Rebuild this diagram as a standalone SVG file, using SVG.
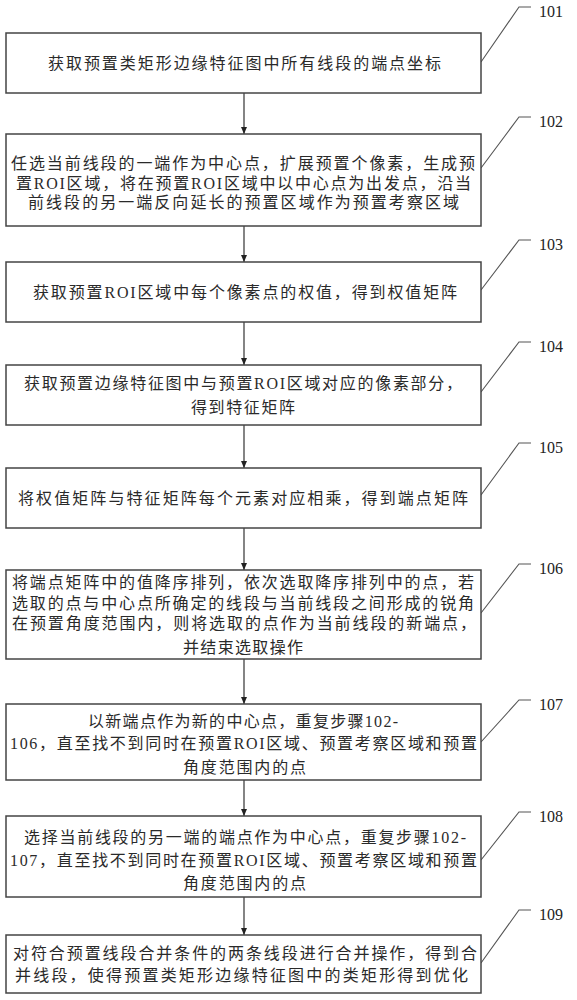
<svg xmlns="http://www.w3.org/2000/svg" width="577" height="1000" viewBox="0 0 577 1000">
<defs>
<marker id="ah" markerWidth="8" markerHeight="7" refX="7" refY="3" orient="auto" markerUnits="userSpaceOnUse">
<path d="M0,0 L7,3 L0,6 z" fill="#222"/>
</marker>
<style>
.box{fill:#fff;stroke:#444;stroke-width:1.5}
.t{font-family:"Liberation Serif","Noto Sans CJK SC",serif;font-size:16px;fill:#2a2a2a}
.lbl{font-family:"Liberation Serif",serif;font-size:16px;fill:#222}
.conn{stroke:#333;stroke-width:1.2;fill:none}
.lead{stroke:#555;stroke-width:1.1;fill:none}
</style>
</defs>
<rect width="577" height="1000" fill="#fff"/>
<g id="connectors">
<line class="conn" x1="244" y1="93" x2="244" y2="134" marker-end="url(#ah)"/>
<line class="conn" x1="244" y1="226" x2="244" y2="262" marker-end="url(#ah)"/>
<line class="conn" x1="244" y1="322" x2="244" y2="365" marker-end="url(#ah)"/>
<line class="conn" x1="244" y1="425" x2="244" y2="468" marker-end="url(#ah)"/>
<line class="conn" x1="244" y1="528" x2="244" y2="570" marker-end="url(#ah)"/>
<line class="conn" x1="244" y1="659" x2="244" y2="704" marker-end="url(#ah)"/>
<line class="conn" x1="244" y1="780" x2="244" y2="816" marker-end="url(#ah)"/>
<line class="conn" x1="244" y1="897" x2="244" y2="935" marker-end="url(#ah)"/>
<polyline class="lead" points="481,62 519,7 531,7"/>
<polyline class="lead" points="481,168 519,117 531,117"/>
<polyline class="lead" points="481,290 519,240 531,240"/>
<polyline class="lead" points="481,392 519,342 531,342"/>
<polyline class="lead" points="481,495 519,443 531,443"/>
<polyline class="lead" points="481,613 519,564 531,564"/>
<polyline class="lead" points="481,742 519,700 531,700"/>
<polyline class="lead" points="481,860 519,812 531,812"/>
<polyline class="lead" points="481,963 519,910 531,910"/>
</g>
<g id="n101">
<rect class="box" x="6" y="33" width="475" height="60"/>
<text class="t" x="48" y="69" textLength="393" lengthAdjust="spacing">获取预置类矩形边缘特征图中所有线段的端点坐标</text>
<text class="lbl" x="539" y="17">101</text>
</g>
<g id="n102">
<rect class="box" x="6" y="134" width="475" height="92"/>
<text class="t" x="11" y="169" textLength="464" lengthAdjust="spacing">任选当前线段的一端作为中心点，扩展预置个像素，生成预</text>
<text class="t" x="16" y="189" textLength="455" lengthAdjust="spacing">置ROI区域，将在预置ROI区域中以中心点为出发点，沿当</text>
<text class="t" x="28" y="208" textLength="431" lengthAdjust="spacing">前线段的另一端反向延长的预置区域作为预置考察区域</text>
<text class="lbl" x="539" y="127">102</text>
</g>
<g id="n103">
<rect class="box" x="6" y="262" width="475" height="60"/>
<text class="t" x="33" y="298" textLength="424" lengthAdjust="spacing">获取预置ROI区域中每个像素点的权值，得到权值矩阵</text>
<text class="lbl" x="539" y="250">103</text>
</g>
<g id="n104">
<rect class="box" x="6" y="365" width="475" height="60"/>
<text class="t" x="24" y="389" textLength="438" lengthAdjust="spacing">获取预置边缘特征图中与预置ROI区域对应的像素部分，</text>
<text class="t" x="191" y="413" textLength="104" lengthAdjust="spacing">得到特征矩阵</text>
<text class="lbl" x="539" y="352">104</text>
</g>
<g id="n105">
<rect class="box" x="6" y="468" width="475" height="60"/>
<text class="t" x="18" y="504" textLength="450" lengthAdjust="spacing">将权值矩阵与特征矩阵每个元素对应相乘，得到端点矩阵</text>
<text class="lbl" x="539" y="453">105</text>
</g>
<g id="n106">
<rect class="box" x="6" y="570" width="475" height="89"/>
<text class="t" x="12" y="588" textLength="462" lengthAdjust="spacing">将端点矩阵中的值降序排列，依次选取降序排列中的点，若</text>
<text class="t" x="12" y="609" textLength="462" lengthAdjust="spacing">选取的点与中心点所确定的线段与当前线段之间形成的锐角</text>
<text class="t" x="12" y="629" textLength="464" lengthAdjust="spacing">在预置角度范围内，则将选取的点作为当前线段的新端点，</text>
<text class="t" x="183" y="653" textLength="120" lengthAdjust="spacing">并结束选取操作</text>
<text class="lbl" x="539" y="574">106</text>
</g>
<g id="n107">
<rect class="box" x="6" y="704" width="475" height="76"/>
<text class="t" x="88" y="727" textLength="310" lengthAdjust="spacing">以新端点作为新的中心点，重复步骤102-</text>
<text class="t" x="10" y="749" textLength="467" lengthAdjust="spacing">106，直至找不到同时在预置ROI区域、预置考察区域和预置</text>
<text class="t" x="183" y="773" textLength="123" lengthAdjust="spacing">角度范围内的点</text>
<text class="lbl" x="539" y="710">107</text>
</g>
<g id="n108">
<rect class="box" x="6" y="816" width="475" height="81"/>
<text class="t" x="24" y="843" textLength="442" lengthAdjust="spacing">选择当前线段的另一端的端点作为中心点，重复步骤102-</text>
<text class="t" x="10" y="866" textLength="467" lengthAdjust="spacing">107，直至找不到同时在预置ROI区域、预置考察区域和预置</text>
<text class="t" x="183" y="889" textLength="123" lengthAdjust="spacing">角度范围内的点</text>
<text class="lbl" x="539" y="822">108</text>
</g>
<g id="n109">
<rect class="box" x="6" y="935" width="475" height="58"/>
<text class="t" x="13" y="959" textLength="464" lengthAdjust="spacing">对符合预置线段合并条件的两条线段进行合并操作，得到合</text>
<text class="t" x="15" y="981" textLength="453" lengthAdjust="spacing">并线段，使得预置类矩形边缘特征图中的类矩形得到优化</text>
<text class="lbl" x="539" y="920">109</text>
</g>
</svg>
